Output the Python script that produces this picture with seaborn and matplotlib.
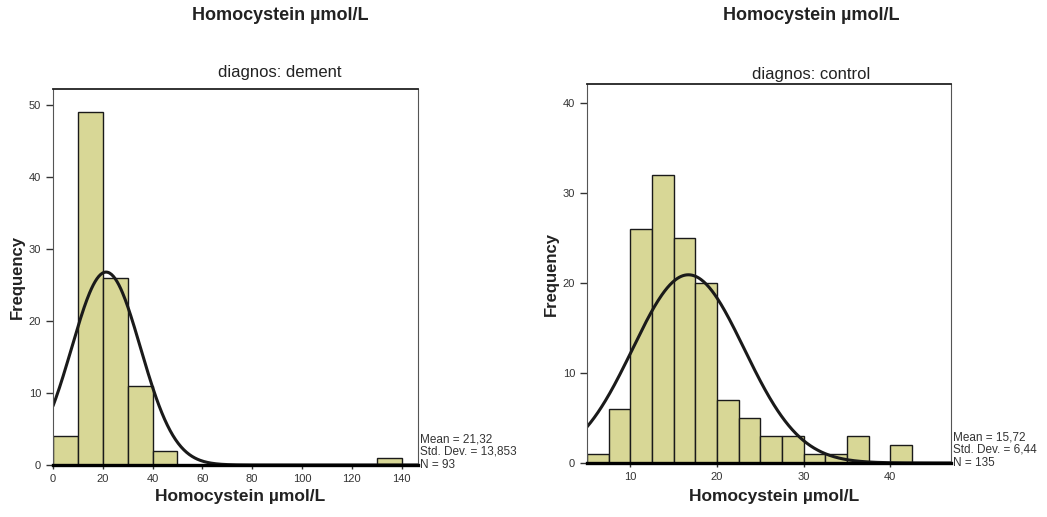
import numpy as np
import pandas as pd
import matplotlib
matplotlib.use("Agg")
import matplotlib.pyplot as plt
import seaborn as sns

# ---- data ----
dement_bin_lefts = [0, 10, 20, 30, 40, 50, 60, 70, 80, 90, 100, 110, 120, 130]
dement_counts = [4, 49, 26, 11, 2, 0, 0, 0, 0, 0, 0, 0, 0, 1]
dement_binwidth = 10
dement_mean, dement_sd, dement_n = 21.32, 13.853, 93
dement_curve_center = 21.32      # peak position of drawn normal curve (read)

control_bin_lefts = [5, 7.5, 10, 12.5, 15, 17.5, 20, 22.5, 25, 27.5, 30, 32.5, 35, 37.5, 40]
control_counts = [1, 6, 26, 32, 25, 20, 7, 5, 3, 3, 1, 1, 3, 0, 2]
control_binwidth = 2.5
control_mean, control_sd, control_n = 15.72, 6.44, 135
control_curve_center = 16.7      # peak position of drawn normal curve (read)

dement_xticks = [0, 20, 40, 60, 80, 100, 120, 140]
dement_yticks = [0, 10, 20, 30, 40, 50]
control_xticks = [10, 20, 30, 40]
control_yticks = [0, 10, 20, 30, 40]

title_text = "Homocystein µmol/L"
xlabel_text = "Homocystein µmol/L"
ylabel_text = "Frequency"

sns.set_style("white")
plt.rcParams['font.family'] = ['Liberation Sans', 'DejaVu Sans']

BAR = "#d8d796"

fig = plt.figure(figsize=(10.47, 5.17), dpi=100)

panels = [
    dict(rect=[53/1047, 1-465/517, 365/1047, 376/517], lefts=dement_bin_lefts, counts=dement_counts,
         w=dement_binwidth, center=dement_curve_center, sd=dement_sd, n=dement_n,
         xlim=(0, 146.6), ylim=(0, 52.2), xticks=dement_xticks, yticks=dement_yticks,
         sub="diagnos: dement", cx=280/1047, ylx=17/1047, statx=420/1047,
         stats=["Mean = 21,32", "Std. Dev. = 13,853", "N = 93"], sub_y=1-72/517),
    dict(rect=[587/1047, 1-463/517, 364/1047, 379/517], lefts=control_bin_lefts, counts=control_counts,
         w=control_binwidth, center=control_curve_center, sd=control_sd, n=control_n,
         xlim=(5, 47), ylim=(0, 42.1), xticks=control_xticks, yticks=control_yticks,
         sub="diagnos: control", cx=811/1047, ylx=551/1047, statx=953/1047,
         stats=["Mean = 15,72", "Std. Dev. = 6,44", "N = 135"], sub_y=1-75/517),
]

for p in panels:
    ax = fig.add_axes(p["rect"])
    lefts = [float(v) for v in p["lefts"]]
    edges = lefts + [lefts[-1] + p["w"]]
    centers = [v + p["w"] / 2 for v in lefts]
    df = pd.DataFrame({"x": centers, "c": [float(c) for c in p["counts"]]})
    sns.histplot(data=df, x="x", weights="c", bins=edges, ax=ax, color=BAR,
                 edgecolor="#1a1a1a", linewidth=1.0, alpha=1.0)
    # fitted normal curve from the displayed statistics
    xs = np.linspace(p["xlim"][0], p["xlim"][1], 400)
    ys = p["n"] * p["w"] / (p["sd"] * np.sqrt(2 * np.pi)) * np.exp(-0.5 * ((xs - p["center"]) / p["sd"]) ** 2)
    sns.lineplot(x=xs, y=ys, ax=ax, color="#1a1a1a", linewidth=2.2)
    ax.set_xlim(*p["xlim"])
    ax.set_ylim(*p["ylim"])
    ax.set_xticks(p["xticks"])
    ax.set_yticks(p["yticks"])
    ax.tick_params(axis="both", labelsize=8, colors="#333333", length=5, width=1,
                   direction="out", bottom=True, left=True)
    ax.tick_params(axis="x", length=3)
    ax.set_xlabel("")
    ax.set_ylabel("")
    for side in ["left", "right"]:
        ax.spines[side].set_color("#555555")
        ax.spines[side].set_linewidth(0.8)
    ax.spines["top"].set_color("#222222")
    ax.spines["top"].set_linewidth(1.3)
    ax.spines["bottom"].set_color("black")
    ax.spines["bottom"].set_linewidth(2.4)
    ax.set_facecolor("white")

    x0, y0, wdt, hgt = p["rect"]
    axc = x0 + wdt / 2
    fig.text(p["cx"], 1 - 15/517, title_text, ha="center", va="center",
             fontsize=13, fontweight="bold", color="#222222")
    fig.text(p["cx"], p["sub_y"], p["sub"], ha="center", va="center",
             fontsize=12, color="#222222")
    fig.text(axc + 5/1047, 1 - 497/517, xlabel_text, ha="center", va="center",
             fontsize=12.5, fontweight="bold", color="#222222")
    fig.text(p["ylx"], y0 + hgt / 2, ylabel_text, ha="center", va="center",
             rotation=90, fontsize=12, fontweight="bold", color="#222222")
    for i, s in enumerate(p["stats"]):
        fig.text(p["statx"], y0 + (26 - 13 * i) / 517, s, ha="left", va="center",
                 fontsize=8.5, color="#333333")

fig.savefig("out.png", dpi=100, facecolor="white")
